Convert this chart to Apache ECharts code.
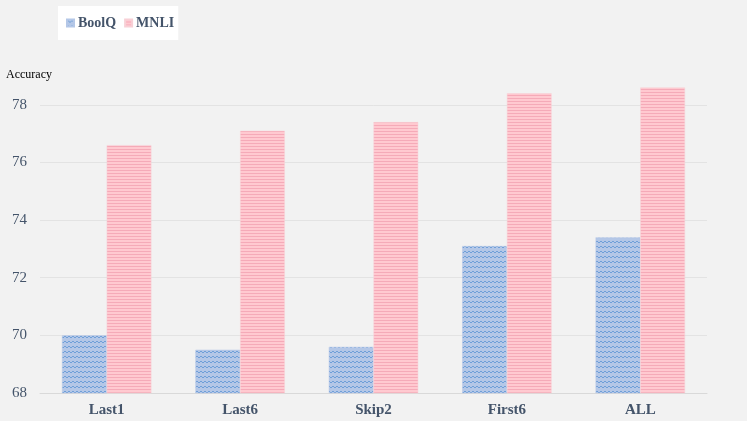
<!DOCTYPE html>
<html><head><meta charset="utf-8">
<script src="https://cdn.jsdelivr.net/npm/echarts@6/dist/echarts.min.js"></script>
<style>html,body{margin:0;padding:0;background:#f2f2f2}#c{width:747px;height:421px}</style>
</head><body><div id="c"></div>
<script>
var categories = ['Last1', 'Last6', 'Skip2', 'First6', 'ALL'];
var boolq = [70.0, 69.5, 69.6, 73.1, 73.4];
var mnli = [76.6, 77.1, 77.4, 78.4, 78.6];
var seriesNames = ['BoolQ', 'MNLI'];

function bluePattern() {
  var c = document.createElement('canvas'); c.width = 4; c.height = 5;
  var g = c.getContext('2d');
  g.fillStyle = '#b4c7e7'; g.fillRect(0, 0, 4, 5);
  g.fillStyle = '#6f9fd8';
  g.fillRect(0, 1, 2, 1); g.fillRect(2, 2, 2, 1);
  return c;
}
function pinkPattern() {
  var c = document.createElement('canvas'); c.width = 2; c.height = 3;
  var g = c.getContext('2d');
  g.fillStyle = '#ffc9d0'; g.fillRect(0, 0, 2, 3);
  g.fillStyle = '#f5aab8'; g.fillRect(0, 2, 2, 1);
  return c;
}
var font = '"Liberation Serif", "DejaVu Serif", serif';
var chart = echarts.init(document.getElementById('c'), null, {renderer: 'canvas'});
chart.setOption({
  backgroundColor: '#f2f2f2',
  animation: false,
  title: {text: 'Accuracy', left: 6, top: 69, padding: 0, textStyle: {fontFamily: font, fontSize: 12, fontWeight: 'normal', color: '#000'}},
  legend: {
    left: 58, top: 6, backgroundColor: '#ffffff', padding: [10, 4, 10, 8], itemGap: 8,
    itemWidth: 7, itemHeight: 7, icon: 'rect',
    textStyle: {fontFamily: font, fontSize: 14, fontWeight: 'bold', color: '#44546a', padding: [0, 0, 0, -1]},
    data: seriesNames
  },
  grid: {left: 40, right: 40, top: 76, bottom: 28},
  xAxis: {
    type: 'category', data: categories,
    axisLine: {lineStyle: {color: '#d9d9d9'}}, axisTick: {show: false},
    axisLabel: {fontFamily: font, fontSize: 15, fontWeight: 'bold', color: '#44546a', margin: 10}
  },
  yAxis: {
    type: 'value', min: 68, max: 79, interval: 2,
    axisLine: {show: false}, axisTick: {show: false},
    splitLine: {lineStyle: {color: '#e3e3e3'}, showMaxLine: false},
    axisLabel: {fontFamily: font, fontSize: 15, color: '#44546a', margin: 13, showMaxLabel: false}
  },
  series: [
    {name: seriesNames[0], type: 'bar', data: boolq, barGap: '0%', barCategoryGap: '33%',
     itemStyle: {color: {image: bluePattern(), repeat: 'repeat'}, borderColor: '#b4c7e7', borderWidth: 0.5}},
    {name: seriesNames[1], type: 'bar', data: mnli,
     itemStyle: {color: {image: pinkPattern(), repeat: 'repeat'}, borderColor: '#f8d0d6', borderWidth: 0.5}}
  ]
});
</script></body></html>
